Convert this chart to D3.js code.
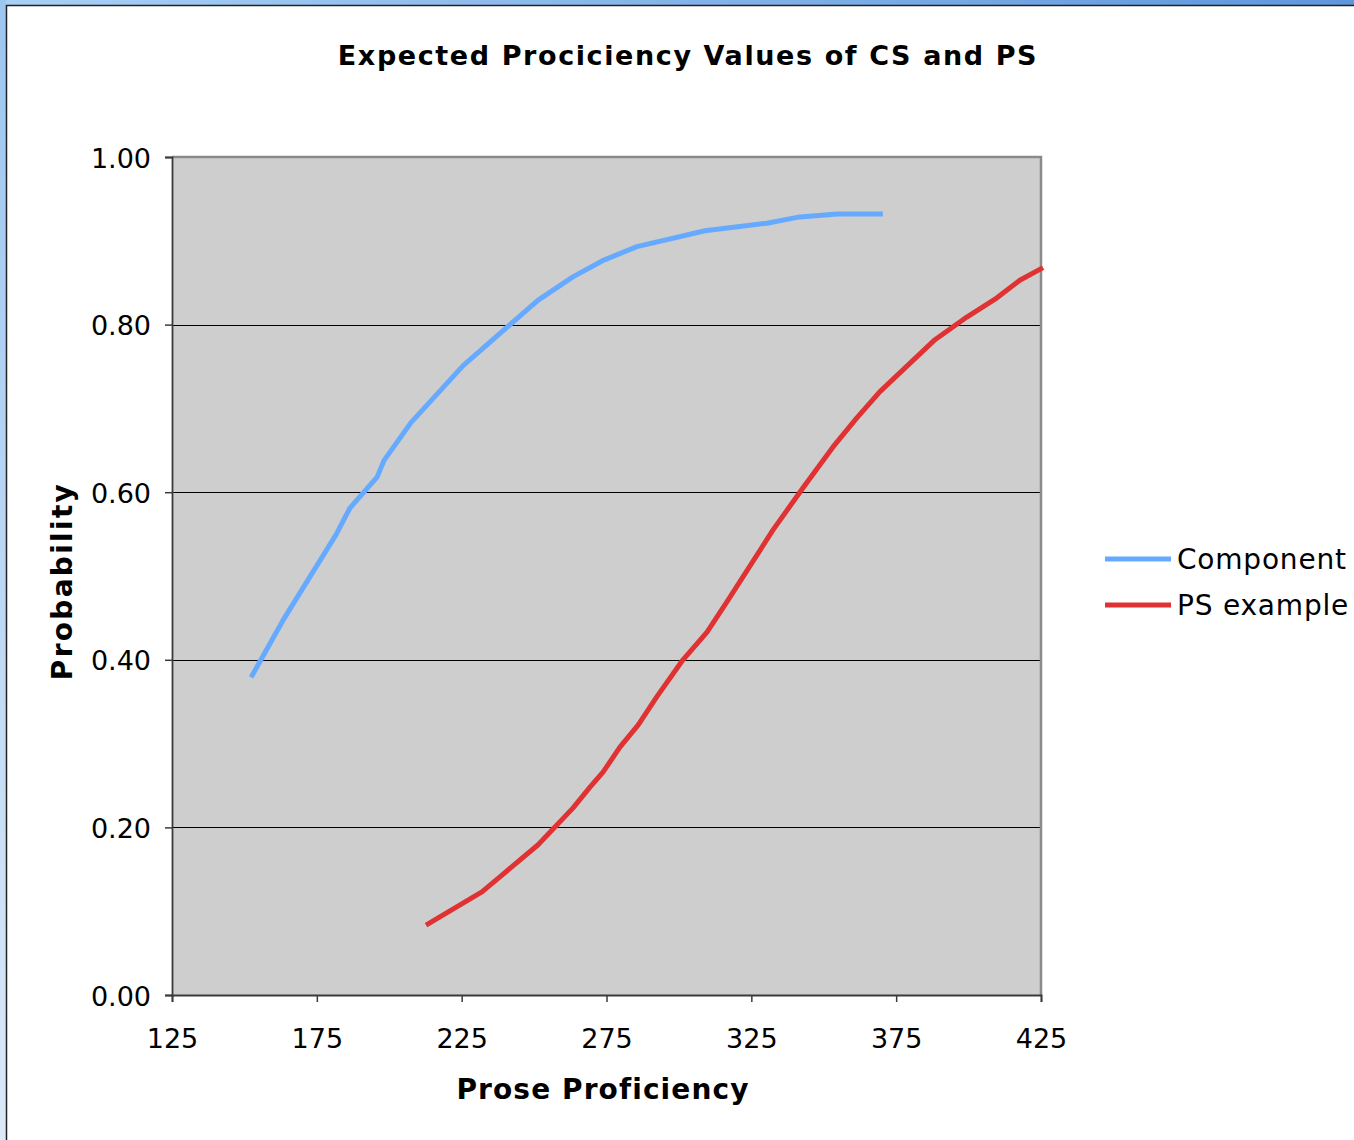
<!DOCTYPE html>
<html>
<head>
<meta charset="utf-8">
<script src="https://cdn.jsdelivr.net/npm/d3@7/dist/d3.min.js"></script>
<style>
  html, body { margin: 0; padding: 0; background: #fff; }
  svg { display: block; }
</style>
</head>
<body>
<svg id="chart" width="1354" height="1140"></svg>
<script>
// Prose proficiency scores and expected probabilities for each curve
const componentX = [152.3, 163.3, 172.6, 181.6, 186.4, 195.8, 198.2, 207.5, 225.5, 251.3, 263.4, 274.1, 285.5, 309.0, 330.4, 340.8, 354.6, 370.4];
const componentY = [0.379, 0.447, 0.499, 0.549, 0.581, 0.618, 0.638, 0.683, 0.751, 0.829, 0.857, 0.877, 0.893, 0.912, 0.921, 0.928, 0.932, 0.932];

const psX = [212.7, 232.0, 238.2, 251.3, 263.4, 269.3, 273.8, 279.7, 285.9, 292.4, 301.4, 309.7, 316.9, 332.5, 342.8, 353.2, 361.5, 369.4, 388.4, 399.4, 409.8, 417.7, 425.7];
const psY = [0.0835, 0.123, 0.141, 0.179, 0.223, 0.248, 0.266, 0.296, 0.322, 0.356, 0.400, 0.433, 0.471, 0.555, 0.605, 0.654, 0.689, 0.720, 0.782, 0.809, 0.832, 0.853, 0.868];

const xTicks = [125, 175, 225, 275, 325, 375, 425];
const yTicks = [0, 0.2, 0.4, 0.6, 0.8, 1.0];

const seriesNames = ["Component", "PS example"];
const seriesColors = ["#66aaff", "#e03232"];

const svg = d3.select("#chart");
const W = 1354, H = 1140;

// window frame: blue gradient strips on top and left, dark inner edge
const defs = svg.append("defs");
const gTop = defs.append("linearGradient").attr("id", "frameTop").attr("x1", 0).attr("x2", 1).attr("y1", 0).attr("y2", 0);
gTop.append("stop").attr("offset", 0).attr("stop-color", "#a9d0f5");
gTop.append("stop").attr("offset", 1).attr("stop-color", "#5f97dc");
const gLeft = defs.append("linearGradient").attr("id", "frameLeft").attr("x1", 0).attr("x2", 0).attr("y1", 0).attr("y2", 1);
gLeft.append("stop").attr("offset", 0).attr("stop-color", "#9cc6f0");
gLeft.append("stop").attr("offset", 1).attr("stop-color", "#dbe9f8");

svg.append("rect").attr("x", 0).attr("y", 0).attr("width", W).attr("height", H).attr("fill", "#fff");
svg.append("rect").attr("x", 0).attr("y", 0).attr("width", W).attr("height", 5).attr("fill", "url(#frameTop)");
svg.append("rect").attr("x", 0).attr("y", 0).attr("width", 6).attr("height", H).attr("fill", "url(#frameLeft)");
svg.append("path").attr("d", `M6.5,${H} V5.5 H${W}`).attr("fill", "none").attr("stroke", "#222").attr("stroke-width", 1.5);

// plot area
const plotL = 172, plotR = 1041, plotT = 157, plotB = 995;
const x = d3.scaleLinear().domain([125, 425]).range([plotL, plotR]);
const y = d3.scaleLinear().domain([0, 1]).range([plotB, plotT]);

svg.append("rect").attr("x", plotL).attr("y", plotT).attr("width", plotR - plotL).attr("height", plotB - plotT)
  .attr("fill", "#cecece");

// gridlines
svg.append("g").selectAll("line").data(yTicks.filter(v => v > 0 && v < 1)).join("line")
  .attr("x1", plotL).attr("x2", plotR)
  .attr("y1", d => Math.round(y(d)) + 0.5).attr("y2", d => Math.round(y(d)) + 0.5)
  .attr("stroke", "#000").attr("stroke-width", 1.2);

// top and right border of plot area
svg.append("path").attr("d", `M${plotL},${plotT} H${plotR} V${plotB}`)
  .attr("fill", "none").attr("stroke", "#8a8a8a").attr("stroke-width", 2.5);

const font = "'DejaVu Sans', Verdana, sans-serif";

// axes
const xAxis = svg.append("g").attr("transform", `translate(0,${plotB})`)
  .call(d3.axisBottom(x).tickValues(xTicks).tickSize(7).tickPadding(20).tickFormat(d3.format("d")));
const yAxis = svg.append("g").attr("transform", `translate(${plotL},0)`)
  .call(d3.axisLeft(y).tickValues(yTicks).tickSize(7).tickPadding(14).tickFormat(d3.format(".2f")));

[xAxis, yAxis].forEach(a => {
  a.select(".domain").attr("stroke", "#3a3a3a").attr("stroke-width", 1.8);
  a.selectAll(".tick line").attr("stroke", "#3a3a3a").attr("stroke-width", 1.5);
  a.selectAll(".tick text").attr("font-family", font).attr("font-size", 27).attr("fill", "#000");
});
xAxis.selectAll(".tick text").attr("dy", "0.95em");
yAxis.selectAll(".tick text").attr("dy", "0.37em");

// curves
const line = d3.line().x(d => x(d[0])).y(d => y(d[1]));
const series = [
  d3.zip(componentX, componentY),
  d3.zip(psX, psY)
];
svg.append("g").selectAll("path").data(series).join("path")
  .attr("d", line)
  .attr("fill", "none")
  .attr("stroke", (d, i) => seriesColors[i])
  .attr("stroke-width", 5)
  .attr("stroke-linejoin", "round");

// title
svg.append("text").attr("x", 688).attr("y", 65).attr("text-anchor", "middle")
  .attr("font-family", font).attr("font-weight", "bold").attr("font-size", 27)
  .attr("letter-spacing", 1.6)
  .text("Expected Prociciency Values of CS and PS");

// axis titles
svg.append("text").attr("x", 603).attr("y", 1099).attr("text-anchor", "middle")
  .attr("font-family", font).attr("font-weight", "bold").attr("font-size", 28)
  .attr("letter-spacing", 1.1)
  .text("Prose Proficiency");

svg.append("text").attr("transform", "translate(72,581) rotate(-90)").attr("text-anchor", "middle")
  .attr("font-family", font).attr("font-weight", "bold").attr("font-size", 28)
  .attr("letter-spacing", 2.3)
  .text("Probability");

// legend
const legend = svg.append("g").selectAll("g").data(seriesNames).join("g")
  .attr("transform", (d, i) => `translate(1105,${559 + i * 46})`);
legend.append("line").attr("x1", 0).attr("x2", 66).attr("y1", 0).attr("y2", 0)
  .attr("stroke", (d, i) => seriesColors[i]).attr("stroke-width", 5);
legend.append("text").attr("x", 72).attr("y", 0).attr("dy", "0.36em")
  .attr("font-family", font).attr("font-size", 28).attr("letter-spacing", 0.8)
  .text(d => d);
</script>
</body>
</html>
